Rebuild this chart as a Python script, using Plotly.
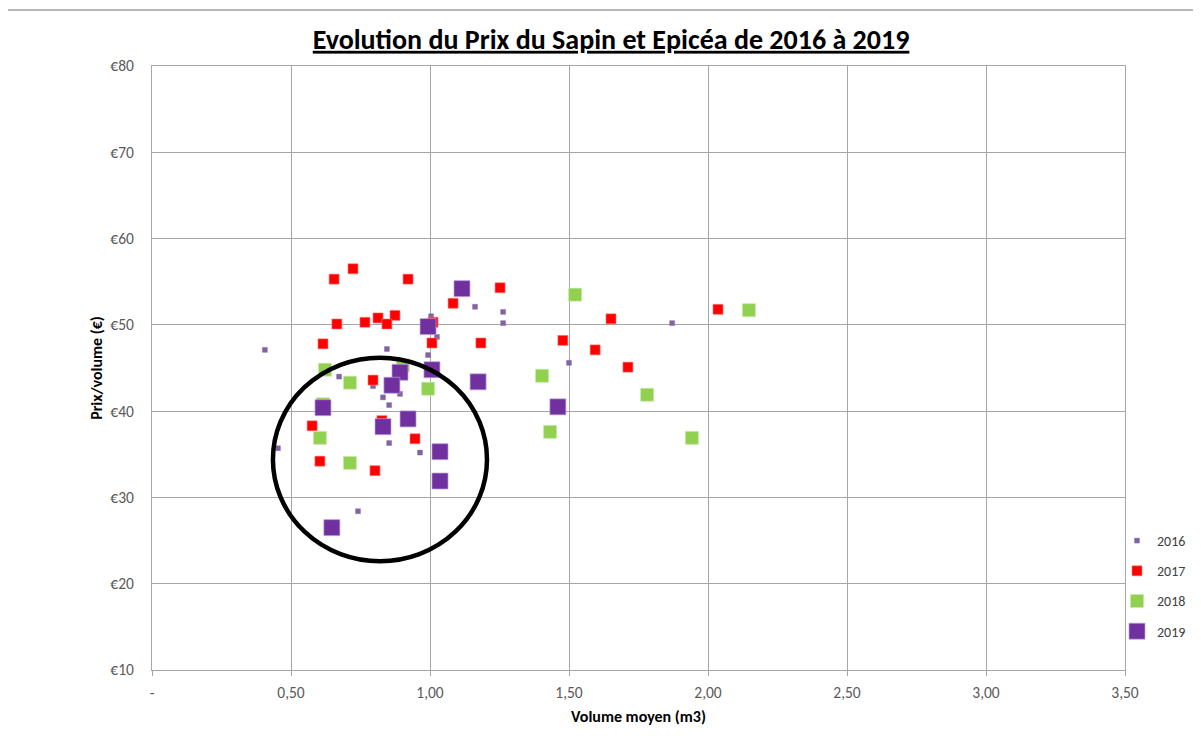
import plotly.graph_objects as go

# ---- data ----
x_2016 = [0.406, 0.453, 0.845, 1.162, 1.263, 1.263, 1.004, 1.025, 0.993, 0.673,
          0.795, 0.831, 0.892, 0.853, 0.853, 0.964, 0.741, 1.871, 1.500]
y_2016 = [47.1, 35.7, 47.2, 52.1, 51.5, 50.2, 51.0, 48.6, 46.5, 44.0,
          42.9, 41.6, 42.0, 40.7, 36.3, 35.2, 28.4, 50.2, 45.6]

x_2017 = [0.655, 0.723, 0.921, 1.252, 0.615, 0.665, 0.766, 0.813, 0.874, 0.845,
          1.011, 1.083, 1.007, 1.183, 2.036, 1.651, 1.478, 1.594, 1.712, 0.795,
          0.576, 0.946, 0.604, 0.802, 0.827]
y_2017 = [55.3, 56.5, 55.3, 54.3, 47.8, 50.1, 50.3, 50.8, 51.1, 50.1,
          50.3, 52.5, 47.9, 47.9, 51.8, 50.7, 48.2, 47.1, 45.1, 43.6,
          38.3, 36.8, 34.2, 33.1, 38.9]

x_2018 = [1.522, 2.147, 0.622, 0.712, 0.903, 0.993, 1.403, 1.432, 1.781, 1.942,
          0.604, 0.712, 0.615]
y_2018 = [53.5, 51.7, 44.8, 43.3, 45.3, 42.6, 44.1, 37.6, 41.9, 36.9,
          36.9, 34.0, 40.8]

x_2019 = [1.115, 0.993, 0.892, 0.863, 1.007, 1.173, 0.615, 0.831, 0.921, 1.036,
          1.036, 0.647, 1.460]
y_2019 = [54.2, 49.8, 44.5, 43.0, 44.8, 43.4, 40.4, 38.2, 39.1, 35.3,
          31.9, 26.5, 40.5]

series_names = ["2016", "2017", "2018", "2019"]

x_tickvals = [0, 0.5, 1.0, 1.5, 2.0, 2.5, 3.0, 3.5]
x_ticktext = ["-", "0,50", "1,00", "1,50", "2,00", "2,50", "3,00", "3,50"]
y_tickvals = [10, 20, 30, 40, 50, 60, 70, 80]
y_ticktext = ["€10", "€20", "€30", "€40", "€50", "€60", "€70", "€80"]

title_text = "Evolution du Prix du Sapin et Epicéa de 2016 à 2019"
x_title = "Volume moyen (m3)"
y_title = "Prix/volume (€)"

# ---- styles ----
FONT = "Calibri, Carlito, Lato, sans-serif"
styles = [
    dict(color="#8064A2", size=5, line=dict(color="rgba(128,100,162,0.35)", width=1)),
    dict(color="#FF0000", size=10, line=dict(color="rgba(255,120,120,0.6)", width=1)),
    dict(color="#92D050", size=13, line=dict(color="rgba(200,235,170,0.7)", width=1)),
    dict(color="#7030A0", size=16, line=dict(color="rgba(190,160,215,0.7)", width=1)),
]

xs = [x_2016, x_2017, x_2018, x_2019]
ys = [y_2016, y_2017, y_2018, y_2019]

fig = go.Figure()
for name, xv, yv, st in zip(series_names, xs, ys, styles):
    fig.add_trace(go.Scatter(
        x=xv, y=yv, mode="markers", name=name, legendgroup=name,
        marker=dict(symbol="square", **st),
    ))

# page body adds an 8px margin; plot area on page: x 152..1125, y 66..670
W, H = 1193, 730
L, R, T, B = 144, 0, 58, 68
paper_w = W - L - R
dom_end = (1125 - 152) / paper_w

fig.update_layout(
    width=W, height=H,
    margin=dict(l=L, r=R, t=T, b=B, autoexpand=False),
    paper_bgcolor="white", plot_bgcolor="white",
    font=dict(family=FONT, size=13, color="#595959"),
    title=dict(text="<b><u>" + title_text + "</u></b>", x=0.5055, xanchor="center",
               xref="container", yref="container",
               y=1 - 31 / H, yanchor="middle",
               font=dict(family=FONT, size=28, color="black")),
    showlegend=True,
    legend=dict(x=(1117 - 152) / paper_w, xanchor="left",
                y=(670 - 525) / 604, yanchor="top",
                traceorder="grouped", tracegroupgap=9, itemwidth=30,
                font=dict(family=FONT, size=14, color="#404040"),
                bgcolor="rgba(0,0,0,0)"),
    shapes=[
        dict(type="circle", xref="x", yref="y", x0=0.435, x1=1.205, y0=22.6, y1=46.2,
             line=dict(color="black", width=4.5)),
        dict(type="line", xref="paper", yref="paper",
             x0=-(152 - 5) / paper_w, x1=1.2, y0=1 + (66 - 10) / 604, y1=1 + (66 - 10) / 604,
             line=dict(color="#A0A0A0", width=1.5), layer="below"),
        dict(type="line", xref="paper", yref="paper",
             x0=-(152 - 5) / paper_w, x1=-(152 - 5) / paper_w, y0=-0.3, y1=1 + (66 - 10) / 604,
             line=dict(color="#A0A0A0", width=1.5), layer="below"),
    ],
)

fig.update_xaxes(
    domain=[0, dom_end],
    range=[0, 3.5], tickvals=x_tickvals, ticktext=x_ticktext,
    showgrid=True, gridcolor="#A6A6A6", gridwidth=1,
    showline=True, linecolor="#A6A6A6", linewidth=1, mirror=True,
    ticks="outside", ticklen=5, tickcolor="#A6A6A6", zeroline=False,
    ticklabelstandoff=3,
    tickfont=dict(family=FONT, size=15.5, color="#595959"),
    title=dict(text="<b>" + x_title + "</b>", standoff=10,
               font=dict(family=FONT, size=16, color="black")),
)
fig.update_yaxes(
    range=[10, 80], tickvals=y_tickvals, ticktext=y_ticktext,
    showgrid=True, gridcolor="#A6A6A6", gridwidth=1,
    showline=True, linecolor="#A6A6A6", linewidth=1, mirror=True,
    ticks="", zeroline=False, ticklabelstandoff=14,
    tickfont=dict(family=FONT, size=15.5, color="#595959"),
    title=dict(text="<b>" + y_title + "</b>", standoff=3,
               font=dict(family=FONT, size=16, color="black")),
)

fig.write_html("out.html")
